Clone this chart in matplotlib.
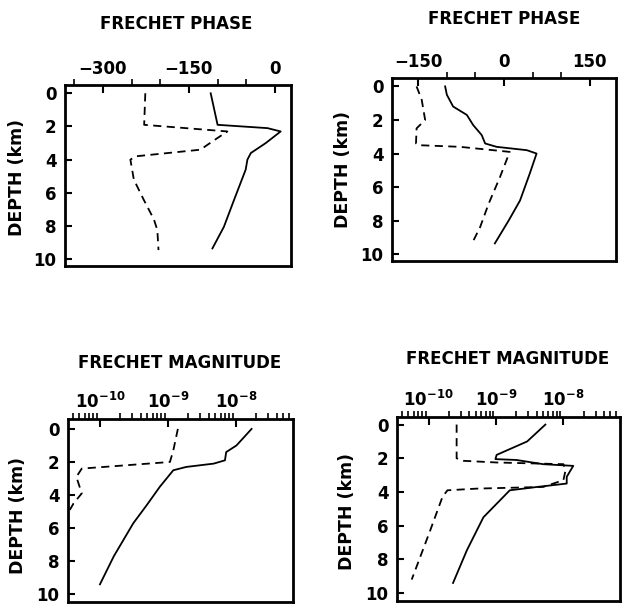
import matplotlib
matplotlib.use("Agg")
import matplotlib.pyplot as plt
import matplotlib.ticker as mticker

plt.rcParams['font.family'] = ['DejaVu Sans']
plt.rcParams['mathtext.fontset'] = 'dejavusans'
plt.rcParams['mathtext.default'] = 'bf'

# ---------------- data ----------------
# Panel 1: Frechet phase (left)
p1_solid_depth = [0.0, 1.9, 2.1, 2.3, 3.0, 3.6, 4.0, 4.6, 6.4, 8.05, 9.35]
p1_solid_phase = [-112, -100, -13, 10, -16, -42, -48, -51, -71, -89, -109]
p1_dash_depth = [0.0, 1.9, 2.3, 2.9, 3.4, 3.8, 4.0, 5.2, 6.4, 7.6, 8.25, 9.45]
p1_dash_phase = [-226, -228, -83, -109, -130, -243, -252, -246, -229, -211, -205, -203]

# Panel 2: Frechet phase (right)
p2_solid_depth = [0.0, 0.5, 1.2, 1.7, 2.3, 2.9, 3.4, 3.6, 3.8, 4.0, 5.2, 6.8, 8.0, 9.35]
p2_solid_phase = [-103, -100, -89, -65, -54, -39, -33, -13, 40, 57, 45, 28, 8, -16]
p2_dash_depth = [0.0, 0.8, 2.0, 2.5, 3.4, 3.5, 3.6, 3.9, 5.4, 7.0, 8.4, 9.35]
p2_dash_phase = [-153, -144, -138, -153, -154, -150, -77, 10, -7, -27, -42, -56]

# Panel 3: Frechet magnitude (left)
p3_solid_depth = [0.0, 1.0, 1.4, 1.9, 2.1, 2.3, 2.5, 3.5, 4.6, 5.7, 7.7, 9.4]
p3_solid_mag = [1.7e-8, 1.02e-8, 7.2e-9, 6.9e-9, 4.7e-9, 1.86e-9, 1.2e-9,
                7.6e-10, 4.9e-10, 3.1e-10, 1.6e-10, 1.0e-10]
p3_dash_depth = [0.0, 1.3, 2.0, 2.4, 2.9, 3.9, 4.5, 4.9]
p3_dash_mag = [1.4e-9, 1.2e-9, 1.07e-9, 5.4e-11, 4.5e-11, 5.4e-11, 4.1e-11, 3.6e-11]

# Panel 4: Frechet magnitude (right)
p4_solid_depth = [0.0, 1.0, 1.8, 2.05, 2.1, 2.35, 2.45, 3.1, 3.5, 3.7, 3.9, 5.5, 7.45, 9.4]
p4_solid_mag = [5.4e-9, 2.9e-9, 1.02e-9, 9.8e-10, 2.0e-9, 5.0e-9, 1.4e-8, 1.12e-8,
                1.12e-8, 4.1e-9, 1.6e-9, 6.5e-10, 3.7e-10, 2.3e-10]
p4_dash_depth = [0.0, 2.0, 2.15, 2.25, 2.35, 2.75, 3.3, 3.7, 3.8, 3.9, 4.3, 6.3, 9.2]
p4_dash_mag = [2.6e-10, 2.6e-10, 3.3e-10, 1.02e-9, 1.0e-8, 1.07e-8, 1.0e-8, 5.0e-9,
               5.2e-10, 1.9e-10, 1.6e-10, 1.05e-10, 5.6e-11]

depth_ticks = [0, 2, 4, 6, 8, 10]
titles = ["FRECHET PHASE", "FRECHET PHASE", "FRECHET MAGNITUDE", "FRECHET MAGNITUDE"]
ylabel = "DEPTH (km)"

# ---------------- layout ----------------
W, H = 623, 605
fig = plt.figure(figsize=(W / 100, H / 100), dpi=100)


def rect(L, R, T, B):
    return [L / W, 1 - B / H, (R - L) / W, (B - T) / H]


lw_line = 1.3
dash = (0, (4.5, 3))


def style(ax, ylim):
    for s in ax.spines.values():
        s.set_linewidth(2.0)
    ax.set_ylim(*ylim)
    ax.set_yticks(depth_ticks)
    ax.xaxis.tick_top()
    ax.tick_params(axis='both', direction='in', labelsize=12, width=1.5)
    ax.tick_params(axis='x', which='major', length=6, pad=5)
    ax.tick_params(axis='x', which='minor', length=4, width=1.2)
    ax.tick_params(axis='y', which='major', length=5, pad=6, right=False)
    for lab in ax.get_xticklabels() + ax.get_yticklabels():
        lab.set_fontweight('bold')


# Panel 1
ax1 = fig.add_axes(rect(65, 291, 85, 266))
ax1.plot(p1_solid_phase, p1_solid_depth, color='black', lw=lw_line)
ax1.plot(p1_dash_phase, p1_dash_depth, color='black', lw=lw_line, linestyle=dash)
ax1.set_xlim(-366, 28)
ax1.set_xticks([-300, -150, 0])
ax1.xaxis.set_minor_locator(mticker.MultipleLocator(50))
style(ax1, (10.41, -0.5))

# Panel 2
ax2 = fig.add_axes(rect(392, 616, 78, 261))
ax2.plot(p2_solid_phase, p2_solid_depth, color='black', lw=lw_line)
ax2.plot(p2_dash_phase, p2_dash_depth, color='black', lw=lw_line, linestyle=dash)
ax2.set_xlim(-196, 196)
ax2.set_xticks([-150, 0, 150])
ax2.xaxis.set_minor_locator(mticker.MultipleLocator(50))
style(ax2, (10.4, -0.5))

# Panel 3
ax3 = fig.add_axes(rect(68, 293, 419, 602))
ax3.plot(p3_solid_mag, p3_solid_depth, color='black', lw=lw_line)
ax3.plot(p3_dash_mag, p3_dash_depth, color='black', lw=lw_line, linestyle=dash)
ax3.set_xscale('log')
ax3.set_xlim(10 ** -10.47, 10 ** -7.16)
ax3.set_xticks([1e-10, 1e-9, 1e-8])
ax3.xaxis.set_minor_locator(mticker.LogLocator(base=10, subs=range(2, 10)))
ax3.xaxis.set_minor_formatter(mticker.NullFormatter())
style(ax3, (10.47, -0.6))

# Panel 4
ax4 = fig.add_axes(rect(397, 620, 417, 601))
ax4.plot(p4_solid_mag, p4_solid_depth, color='black', lw=lw_line)
ax4.plot(p4_dash_mag, p4_dash_depth, color='black', lw=lw_line, linestyle=dash)
ax4.set_xscale('log')
ax4.set_xlim(10 ** -10.47, 10 ** -7.16)
ax4.set_xticks([1e-10, 1e-9, 1e-8])
ax4.xaxis.set_minor_locator(mticker.LogLocator(base=10, subs=range(2, 10)))
ax4.xaxis.set_minor_formatter(mticker.NullFormatter())
style(ax4, (10.47, -0.45))

# Titles and y-labels
title_pos = [(176, 24), (504, 19.5), (180, 363), (508, 359.5)]
ylab_pos = [(17, 178), (343, 170), (18, 515), (347, 511)]
for t, (x, y) in zip(titles, title_pos):
    fig.text(x / W, 1 - y / H, t, ha='center', va='center', fontsize=12,
             fontweight='bold')
for (x, y) in ylab_pos:
    fig.text(x / W, 1 - y / H, ylabel, ha='center', va='center', fontsize=12.5,
             fontweight='bold', rotation=90)

fig.savefig("out.png", dpi=100)
